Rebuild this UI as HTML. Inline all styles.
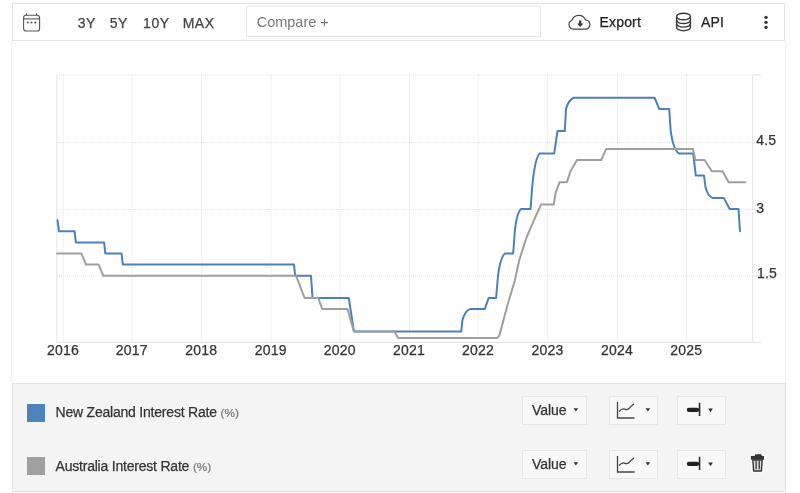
<!DOCTYPE html>
<html lang="en">
<head>
<meta charset="utf-8">
<title>New Zealand Interest Rate vs Australia Interest Rate</title>
<style>
html,body{margin:0;padding:0;background:#fff;}
body{width:800px;height:493px;position:relative;overflow:hidden;font-family:"Liberation Sans",Arial,sans-serif;font-size:14px;color:#333;}
.abs{position:absolute;}
#toolbar{left:12px;top:3px;width:771px;height:36px;border:1px solid #e3e5e5;background:#fff;}
#chartbox{left:11.4px;top:41px;width:774.6px;height:342px;border-left:1px solid #f3f3f3;border-right:1px solid #f3f3f3;background:#fff;box-sizing:border-box;}
.tb{top:14.5px;line-height:16px;height:16px;color:#444;white-space:nowrap;letter-spacing:0.5px;-webkit-text-stroke:0.25px #444;}
#cmp{left:246px;top:6px;width:293px;height:29px;border:1px solid #e8e8e4;background:#fff;}
#cmp span{position:absolute;left:9.7px;top:6.9px;font-size:14.5px;line-height:16px;color:#777;white-space:nowrap;}
#legend{left:12px;top:383px;width:771.5px;height:107px;border:1px solid #e2e2e2;border-top-color:#e8e8e8;background:#f4f4f4;}
.sw{left:27px;width:18px;height:18px;}
.lt{left:55.5px;line-height:16px;white-space:nowrap;color:#333;font-size:14px;letter-spacing:-0.21px;-webkit-text-stroke:0.25px #333;}
.lt small{font-size:11.8px;color:#777;letter-spacing:0;-webkit-text-stroke:0.2px #777;}
.btn{height:27px;border:1px solid #e6e6e6;background:#f8f8f8;}
.btn span{position:absolute;left:9.1px;top:4.7px;line-height:16px;color:#333;letter-spacing:-0.1px;-webkit-text-stroke:0.25px #333;}
svg{position:absolute;left:0;top:0;}
svg text{font-family:"Liberation Sans",Arial,sans-serif;font-size:14px;fill:#333;letter-spacing:0.2px;stroke:#333;stroke-width:0.25px;}
</style>
</head>
<body>
<div id="toolbar" class="abs"></div>
<div id="chartbox" class="abs"></div>
<div class="abs tb" style="left:77.7px">3Y</div>
<div class="abs tb" style="left:109.8px">5Y</div>
<div class="abs tb" style="left:143.1px">10Y</div>
<div class="abs tb" style="left:182.7px">MAX</div>
<div id="cmp" class="abs"><span>Compare +</span></div>
<div class="abs tb" style="left:599.6px;top:13.700px;color:#222;letter-spacing:0.15px;-webkit-text-stroke:0.25px #222">Export</div>
<div class="abs tb" style="left:701px;top:13.700px;color:#222;letter-spacing:0.15px;-webkit-text-stroke:0.25px #222">API</div>

<div id="legend" class="abs"></div>
<div class="abs sw" style="top:403.5px;background:#4f81bd"></div>
<div class="abs lt" style="top:404.4px">New Zealand Interest Rate <small>(%)</small></div>
<div class="abs sw" style="top:457.3px;background:#a0a0a0"></div>
<div class="abs lt" style="top:458.2px">Australia Interest Rate <small>(%)</small></div>

<div class="abs btn" style="left:522px;top:396px;width:63px"><span>Value</span></div>
<div class="abs btn" style="left:609px;top:396px;width:46.5px"></div>
<div class="abs btn" style="left:677px;top:396px;width:47px"></div>
<div class="abs btn" style="left:522px;top:450px;width:63px"><span>Value</span></div>
<div class="abs btn" style="left:609px;top:450px;width:46.5px"></div>
<div class="abs btn" style="left:677px;top:450px;width:47px"></div>

<svg width="800" height="493" viewBox="0 0 800 493">
  <!-- chart grid -->
  <g stroke="#e4e4e4" stroke-width="1" stroke-dasharray="1 1" fill="none"><line x1="57" y1="74.9" x2="752.5" y2="74.9" /><line x1="57" y1="142.6" x2="752.5" y2="142.6" /><line x1="57" y1="209.4" x2="752.5" y2="209.4" /><line x1="57" y1="275.9" x2="752.5" y2="275.9" /><line x1="63.3" y1="74.9" x2="63.3" y2="342" /><line x1="132.1" y1="74.9" x2="132.1" y2="342" /><line x1="201.6" y1="74.9" x2="201.6" y2="342" /><line x1="271.0" y1="74.9" x2="271.0" y2="342" /><line x1="340.0" y1="74.9" x2="340.0" y2="342" /><line x1="409.4" y1="74.9" x2="409.4" y2="342" /><line x1="478.3" y1="74.9" x2="478.3" y2="342" /><line x1="547.7" y1="74.9" x2="547.7" y2="342" /><line x1="617.4" y1="74.9" x2="617.4" y2="342" /><line x1="686.5" y1="74.9" x2="686.5" y2="342" /></g>
  <g stroke="#e7e7e7" stroke-width="1.2" fill="none">
    <line x1="56.9" y1="74.9" x2="56.9" y2="342.5"/>
    <line x1="752.6" y1="74.9" x2="752.6" y2="342.5"/>
    <line x1="56.3" y1="342.3" x2="761" y2="342.3"/>
    <line x1="752.5" y1="74.9" x2="761" y2="74.9" /><line x1="752.5" y1="142.6" x2="761" y2="142.6" /><line x1="752.5" y1="209.4" x2="761" y2="209.4" /><line x1="752.5" y1="275.9" x2="761" y2="275.9" />
  </g>
  <g><text x="63.0" y="355.4" text-anchor="middle">2016</text><text x="131.79999999999998" y="355.4" text-anchor="middle">2017</text><text x="201.29999999999998" y="355.4" text-anchor="middle">2018</text><text x="270.7" y="355.4" text-anchor="middle">2019</text><text x="339.7" y="355.4" text-anchor="middle">2020</text><text x="409.09999999999997" y="355.4" text-anchor="middle">2021</text><text x="478.0" y="355.4" text-anchor="middle">2022</text><text x="547.4000000000001" y="355.4" text-anchor="middle">2023</text><text x="617.1" y="355.4" text-anchor="middle">2024</text><text x="686.2" y="355.4" text-anchor="middle">2025</text></g>
  <g><text x="756.3" y="144.8">4.5</text><text x="756.3" y="212.5">3</text><text x="757.0" y="278.0">1.5</text></g>
  <!-- series -->
  <path d="M57.5 220.12 L59.0 231.25 L74.6 231.25 L75.8 242.38 L104.1 242.38 L105.3 253.5 L121.6 253.5 L122.8 264.62 L294.0 264.62 L295.2 275.75 L311.0 275.75 L312.5 298.0 L348.8 298.0 L353.9 331.38 L461.3 331.38 L462.4 320.25 Q464.99 310.79 469.8 309.12 L484.8 309.12 L488.6 298.0 L496.1 298.0 L498.0 275.75 Q500.45 256.84 505.0 253.5 L513.2 253.5 L514.8 231.25 Q516.97 212.34 521.0 209.0 L530.5 209.0 L532.2 186.75 Q534.83 158.39 539.7 153.38 L554.2 153.38 L557.5 131.12 L564.8 131.12 L566.0 108.88 Q568.8 99.42 574.0 97.75 L654.6 97.75 L659.2 108.88 L669.2 108.88 L670.7 131.12 Q673.5 150.04 678.7 153.38 L693.2 153.38 L695.8 175.62 L704.0 175.62 L705.4 186.75 Q707.88 196.21 712.5 197.88 L723.7 197.88 L729.7 209.0 L738.5 209.0 L740.0 231.25" fill="none" stroke="#4c80bc" stroke-width="2" stroke-linejoin="round" stroke-linecap="round"/>
  <path d="M57.0 253.5 L81.4 253.5 L86.1 264.62 L98.7 264.62 L103.3 275.75 L296.1 275.75 L304.6 298.0 L318.3 298.0 L322.3 309.12 L347.5 309.12 L353.9 331.38 L394.4 331.38 L398.1 338.05 L497.1 338.05 L499.3 335.38 L501.1 329.15 L507.0 306.68 L514.9 280.2 L519.2 260.18 L526.4 237.93 L531.0 226.8 L536.0 215.68 L541.1 204.55 L553.7 204.55 L555.5 193.42 L559.5 182.3 L566.8 182.3 L570.5 171.17 L577.0 160.05 L601.1 160.05 L606.3 148.93 L693.0 148.93 L695.4 160.05 L704.6 160.05 L711.8 171.17 L722.6 171.17 L728.7 182.3 L745.4 182.3" fill="none" stroke="#9f9f9f" stroke-width="2" stroke-linejoin="round" stroke-linecap="round"/>

  <!-- calendar icon -->
  <g fill="none" stroke="#555" stroke-width="1.1">
    <rect x="23.6" y="15.2" width="16" height="15.8" rx="2.6"/>
    <line x1="23.6" y1="18.9" x2="39.6" y2="18.9"/>
    <line x1="26.3" y1="13.2" x2="26.3" y2="15.2"/>
    <line x1="36.6" y1="13.2" x2="36.6" y2="15.2"/>
  </g>
  <g fill="#555"><circle cx="27.8" cy="22.4" r="1"/><circle cx="31.5" cy="22.4" r="1"/><circle cx="35.2" cy="22.4" r="1"/></g>

  <!-- cloud download icon -->
  <path fill="none" stroke="#444" stroke-width="1.2" stroke-linejoin="round" d="M573.2 29.100A4.600 4.600 0 0 1 572 20.200A7.200 7.200 0 0 1 585.5 19.800A4.800 4.800 0 0 1 586.6 29.100Z"/>
  <path fill="#333" d="M579.1 20.400h2.200v3.100h2.100l-3.200 3.400l-3.200-3.400h2.100z"/>

  <!-- database icon -->
  <g fill="none" stroke="#3a3a3a" stroke-width="1.4">
    <ellipse cx="683.5" cy="16.500" rx="6.900" ry="3.300"/>
    <path d="M676.6 16.500v10.900c0 1.800 3.100 3.300 6.900 3.300s6.900-1.500 6.900-3.300V16.500"/>
    <path d="M676.6 20.200c0 1.800 3.100 3.300 6.900 3.300s6.900-1.500 6.900-3.300"/>
    <path d="M676.6 23.800c0 1.800 3.100 3.300 6.900 3.300s6.900-1.500 6.900-3.300"/>
  </g>

  <!-- kebab -->
  <g fill="#333"><circle cx="766" cy="17.300" r="1.65"/><circle cx="766" cy="22.300" r="1.65"/><circle cx="766" cy="27.300" r="1.65"/></g>

  <!-- legend button icons -->
  <g id="row1">
    <path fill="#333" d="M573.500 408.200h4.700l-2.350 3.400z"/>
    <g fill="none" stroke="#444" stroke-width="1.3"><path d="M617.500 402v16h17"/><path d="M619 411.500c2.500-2.500 4-3 5.500-2.300s3 .8 4.500-.7 3-3.600 5-4.300"/></g>
    <path fill="#333" d="M645.500 408.200h4.700l-2.350 3.400z"/>
    <rect x="686.800" y="407.700" width="12.300" height="4.400" rx="2" fill="#222"/>
    <rect x="698.800" y="402.800" width="1.500" height="13.200" fill="#222"/>
    <path fill="#333" d="M708.200 408.600h4.700l-2.350 3.600z"/>
  </g>
  <g id="row2" transform="translate(0,54)">
    <path fill="#333" d="M573.500 408.200h4.700l-2.350 3.400z"/>
    <g fill="none" stroke="#444" stroke-width="1.3"><path d="M617.500 402v16h17"/><path d="M619 411.500c2.500-2.500 4-3 5.500-2.300s3 .8 4.500-.7 3-3.600 5-4.300"/></g>
    <path fill="#333" d="M645.500 408.200h4.700l-2.350 3.400z"/>
    <rect x="686.800" y="407.700" width="12.300" height="4.400" rx="2" fill="#222"/>
    <rect x="698.800" y="402.800" width="1.500" height="13.200" fill="#222"/>
    <path fill="#333" d="M708.200 408.600h4.700l-2.350 3.600z"/>
  </g>
  <!-- trash -->
  <g>
    <path fill="none" stroke="#fff" stroke-opacity="0.7" stroke-width="2.4" stroke-linejoin="round" d="M751 456h13v3.600h-.8l-.8 12h-9.800l-.8-12h-.8z"/>
    <path fill="#333" d="M750.900 455.900l13.100 0v3.800h-13.100z"/>
    <path fill="#333" d="M754.900 454.600l5.600-.7l1.600 2.200h-7.200z"/>
    <path fill="#dcdcdc" stroke="#333" stroke-width="1.4" stroke-linejoin="round" d="M752.900 460l.7 11h7.800l.7-11z"/>
    <path fill="#333" d="M755.500 461h1.250v8.200h-1.250zM758.600 461h1.250v8.200h-1.250z"/>
  </g>
</svg>
</body>
</html>
